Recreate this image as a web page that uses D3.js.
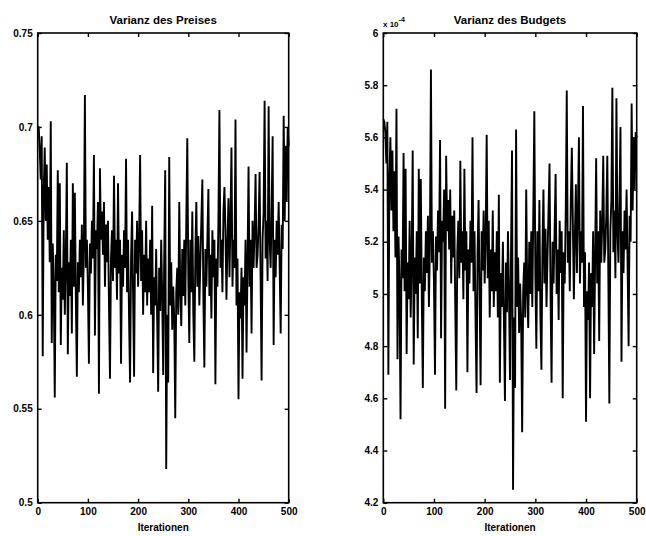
<!DOCTYPE html>
<html>
<head>
<meta charset="utf-8">
<script src="https://cdn.jsdelivr.net/npm/d3@7"></script>
<style>
  body { margin: 0; background: #fff; }
  text { font-family: "Liberation Sans", Arial, Helvetica, sans-serif; }
</style>
</head>
<body>
<div id="chart"></div>
<script>
// iterations 0, 2, 4, ... 500
const iterStep = 2;

// Varianz des Preises
const priceVar = [
  0.700, 0.700, 0.688, 0.672, 0.695, 0.578, 0.665, 0.689, 0.650, 0.680,
  0.640, 0.668, 0.628, 0.703, 0.585, 0.638, 0.615, 0.556, 0.632, 0.618,
  0.677, 0.612, 0.670, 0.584, 0.625, 0.608, 0.645, 0.600, 0.628, 0.681,
  0.579, 0.628, 0.610, 0.640, 0.590, 0.670, 0.615, 0.665, 0.608, 0.567,
  0.628, 0.612, 0.640, 0.620, 0.648, 0.605, 0.635, 0.717, 0.625, 0.640,
  0.615, 0.574, 0.638, 0.622, 0.650, 0.630, 0.685, 0.589, 0.645, 0.635,
  0.660, 0.558, 0.678, 0.640, 0.655, 0.632, 0.660, 0.615, 0.648, 0.628,
  0.650, 0.605, 0.566, 0.630, 0.645, 0.618, 0.674, 0.625, 0.640, 0.608,
  0.670, 0.622, 0.640, 0.574, 0.632, 0.615, 0.645, 0.625, 0.683, 0.612,
  0.640, 0.598, 0.564, 0.630, 0.655, 0.610, 0.567, 0.640, 0.622, 0.650,
  0.615, 0.638, 0.685, 0.618, 0.645, 0.600, 0.632, 0.612, 0.650, 0.605,
  0.630, 0.612, 0.640, 0.600, 0.658, 0.569, 0.620, 0.605, 0.635, 0.598,
  0.559, 0.625, 0.602, 0.640, 0.610, 0.568, 0.630, 0.677, 0.518, 0.600,
  0.564, 0.684, 0.605, 0.628, 0.592, 0.615, 0.598, 0.545, 0.612, 0.625,
  0.600, 0.660, 0.612, 0.594, 0.635, 0.610, 0.640, 0.605, 0.650, 0.694,
  0.620, 0.585, 0.640, 0.612, 0.655, 0.600, 0.575, 0.632, 0.660, 0.615,
  0.642, 0.605, 0.628, 0.650, 0.672, 0.610, 0.572, 0.635, 0.615, 0.640,
  0.667, 0.610, 0.632, 0.598, 0.645, 0.620, 0.640, 0.563, 0.630, 0.615,
  0.650, 0.709, 0.625, 0.640, 0.612, 0.655, 0.668, 0.645, 0.608, 0.638,
  0.662, 0.620, 0.650, 0.689, 0.615, 0.640, 0.625, 0.704, 0.605, 0.630,
  0.555, 0.612, 0.598, 0.625, 0.566, 0.620, 0.605, 0.640, 0.580, 0.628,
  0.679, 0.615, 0.640, 0.590, 0.650, 0.625, 0.645, 0.675, 0.625, 0.632,
  0.648, 0.676, 0.620, 0.565, 0.640, 0.655, 0.714, 0.630, 0.650, 0.618,
  0.711, 0.640, 0.625, 0.655, 0.695, 0.584, 0.640, 0.620, 0.650, 0.632,
  0.660, 0.625, 0.590, 0.648, 0.635, 0.706, 0.650, 0.690, 0.660, 0.700,
  0.690
];

// Varianz des Budgets (x 10^-4)
const budgetVar = [
  5.67, 5.66, 5.62, 5.50, 5.66, 4.69, 5.44, 5.60, 5.32, 5.55,
  5.24, 5.47, 5.14, 5.71, 4.75, 5.22, 5.04, 4.52, 5.17, 5.06,
  5.54, 5.01, 5.48, 4.77, 5.12, 4.98, 5.28, 4.91, 5.14, 5.55,
  4.73, 5.14, 5.00, 5.24, 4.83, 5.48, 5.04, 5.44, 4.98, 4.64,
  5.14, 5.01, 5.24, 5.08, 5.30, 4.95, 5.20, 5.86, 5.12, 5.24,
  5.04, 4.69, 5.22, 5.09, 5.32, 5.16, 5.59, 4.83, 5.28, 5.20,
  5.40, 4.56, 5.53, 5.24, 5.36, 5.17, 5.40, 5.04, 5.30, 5.14,
  5.32, 4.95, 4.63, 5.16, 5.28, 5.06, 5.51, 5.12, 5.24, 4.98,
  5.48, 5.09, 5.24, 4.70, 5.17, 5.04, 5.28, 5.12, 5.60, 5.01,
  5.24, 4.90, 4.62, 5.16, 5.36, 5.00, 4.65, 5.24, 5.09, 5.32,
  5.04, 5.22, 5.61, 5.06, 5.28, 4.91, 5.17, 5.01, 5.32, 4.95,
  5.16, 5.01, 5.24, 4.91, 5.38, 4.66, 5.08, 4.95, 5.20, 4.90,
  4.59, 5.12, 4.93, 5.24, 5.00, 4.67, 5.16, 5.55, 4.25, 4.91,
  4.64, 5.63, 4.95, 5.14, 4.85, 5.04, 4.90, 4.47, 5.01, 5.12,
  4.91, 5.40, 5.01, 4.87, 5.20, 5.00, 5.24, 4.95, 5.32, 5.70,
  5.08, 4.79, 5.24, 5.01, 5.36, 4.91, 4.71, 5.17, 5.40, 5.04,
  5.25, 4.95, 5.14, 5.32, 5.50, 5.00, 4.66, 5.20, 5.04, 5.24,
  5.46, 5.00, 5.17, 4.90, 5.28, 5.08, 5.24, 4.60, 5.16, 5.04,
  5.32, 5.78, 5.12, 5.24, 5.01, 5.36, 5.56, 5.28, 4.98, 5.22,
  5.42, 5.08, 5.32, 5.60, 5.04, 5.24, 5.12, 5.72, 4.95, 5.16,
  4.51, 5.01, 4.90, 5.12, 4.60, 5.08, 4.95, 5.24, 4.77, 5.14,
  5.52, 5.04, 5.24, 4.82, 5.32, 5.12, 5.28, 5.53, 5.12, 5.17,
  5.30, 5.53, 5.08, 4.58, 5.24, 5.36, 5.79, 5.16, 5.32, 5.06,
  5.75, 5.24, 5.12, 5.36, 5.64, 4.74, 5.24, 5.08, 5.32, 5.17,
  5.40, 5.12, 4.80, 5.30, 5.20, 5.73, 5.32, 5.60, 5.40, 5.62,
  5.60
];

const xTicks = [0, 100, 200, 300, 400, 500];
const priceTicks = [0.5, 0.55, 0.6, 0.65, 0.7, 0.75];
const priceTickLabels = ["0.5", "0.55", "0.6", "0.65", "0.7", "0.75"];
const budgetTicks = [4.2, 4.4, 4.6, 4.8, 5, 5.2, 5.4, 5.6, 5.8, 6];
const budgetTickLabels = ["4.2", "4.4", "4.6", "4.8", "5", "5.2", "5.4", "5.6", "5.8", "6"];

const width = 646, height = 536;
const svg = d3.select("#chart").append("svg")
    .attr("width", width).attr("height", height);

const plotTop = 33, plotBottom = 502.7;

function panel(opts) {
    const x = d3.scaleLinear().domain([0, 500]).range([opts.left, opts.right]);
    const y = d3.scaleLinear().domain(opts.domain).range([plotBottom, plotTop]);
    const g = svg.append("g");

    // trace
    g.append("path")
        .datum(opts.values)
        .attr("fill", "none")
        .attr("stroke", "#000")
        .attr("stroke-width", 1.9)
        .attr("stroke-linejoin", "bevel")
        .attr("d", d3.line()
            .x((d, i) => x(i * iterStep))
            .y(d => y(d)));

    // axes, ticks pointing inward on all four sides
    const fmtY = d => opts.labels[opts.ticks.indexOf(d)];
    const axes = [
        [d3.axisBottom(x).tickValues(xTicks).tickSize(-4).tickPadding(5).tickFormat(d3.format("d")), `translate(0,${plotBottom})`],
        [d3.axisTop(x).tickValues(xTicks).tickSize(-4).tickFormat(""), `translate(0,${plotTop})`],
        [d3.axisLeft(y).tickValues(opts.ticks).tickSize(-4).tickPadding(5).tickFormat(fmtY), `translate(${opts.left},0)`],
        [d3.axisRight(y).tickValues(opts.ticks).tickSize(-4).tickFormat(""), `translate(${opts.right},0)`]
    ];
    axes.forEach(([ax, tr]) => {
        const a = g.append("g").attr("transform", tr).call(ax);
        a.select(".domain").remove();
        a.selectAll("line").attr("stroke", "#000").attr("stroke-width", 1.4);
        a.selectAll("text")
            .attr("fill", "#000")
            .style("font-size", "10px")
            .style("font-weight", "bold");
    });

    g.append("rect")
        .attr("x", opts.left).attr("y", plotTop)
        .attr("width", opts.right - opts.left).attr("height", plotBottom - plotTop)
        .attr("fill", "none").attr("stroke", "#000").attr("stroke-width", 1.6);

    g.append("text")
        .attr("x", (opts.left + opts.right) / 2).attr("y", 24)
        .attr("text-anchor", "middle")
        .style("font-size", "11.5px").style("font-weight", "bold")
        .text(opts.title);

    g.append("text")
        .attr("x", (opts.left + opts.right) / 2).attr("y", 531)
        .attr("text-anchor", "middle")
        .style("font-size", "10px").style("font-weight", "bold")
        .text("Iterationen");

    return g;
}

panel({ left: 37.7, right: 288.7, domain: [0.5, 0.75], ticks: priceTicks, labels: priceTickLabels,
        values: priceVar, title: "Varianz des Preises" });

const gb = panel({ left: 383.3, right: 636.7, domain: [4.2, 6], ticks: budgetTicks, labels: budgetTickLabels,
        values: budgetVar, title: "Varianz des Budgets" });

// exponent label
const ex = gb.append("text").attr("x", 383).attr("y", 27)
    .style("font-size", "8px").style("font-weight", "bold");
ex.append("tspan").text("x 10");
ex.append("tspan").attr("dy", -5).style("font-size", "7px").text("-4");
</script>
</body>
</html>
